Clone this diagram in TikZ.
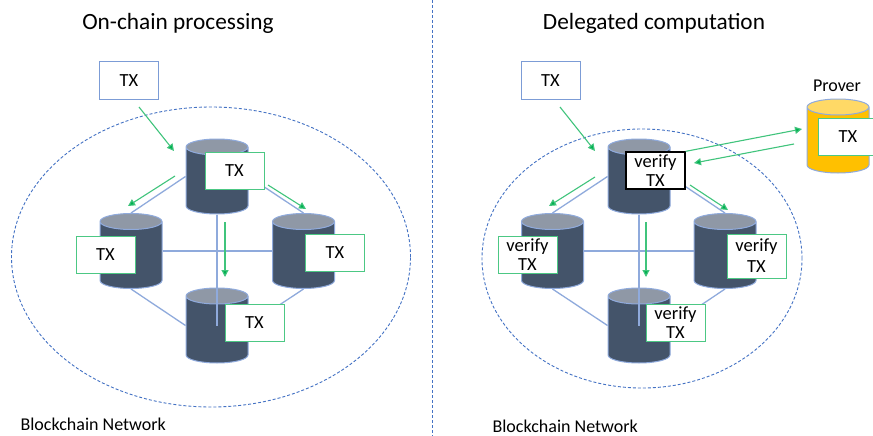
\documentclass[tikz,border=0pt]{standalone}
\usepackage{fontspec}
\setmainfont{Carlito}
\usetikzlibrary{arrows.meta, shapes.geometric}
\definecolor{slate}{HTML}{44546A}
\definecolor{slate top}{HTML}{8F98A6}
\definecolor{link blue}{HTML}{8FAADC}
\definecolor{ring blue}{HTML}{4472C4}
\definecolor{tx green}{HTML}{00B050}
\tikzset{
  peer/.style={shape=cylinder, shape border rotate=90, shape aspect=2, draw=link blue, line width=1pt,
    cylinder uses custom fill, cylinder body fill=slate, cylinder end fill=slate top,
    minimum width=62pt, minimum height=75pt, inner sep=4pt, anchor=shape center},
  prover/.style={peer, cylinder body fill={rgb,255:red,255;green,192;blue,0},
    cylinder end fill={rgb,255:red,255;green,217;blue,102}},
  txbox/.style={draw=tx green!70, fill=white, line width=1pt, font=\fontsize{18.5}{19}\selectfont,
    minimum width=59pt, minimum height=37pt, inner sep=0pt, align=center},
  inbox/.style={txbox, draw=ring blue!70},
  title/.style={font=\fontsize{23.3}{26}\selectfont},
  caption/.style={font=\fontsize{18}{20}\selectfont, anchor=west},
  link/.style={draw=link blue, line width=1.3pt},
  send/.style={-{Triangle[length=7pt, width=7pt, fill=tx green]}, draw=tx green!75, line width=1.1pt},
  ring/.style={draw=ring blue, densely dashed, line width=0.9pt},
}
\begin{document}
\begin{tikzpicture}[x=1pt, y=-1pt]
    \clip (0,0) rectangle (873,436);
    \fill[white] (0,0) rectangle (873,436);
    \coordinate (splittop) at (432,0);
    \coordinate (splitbot) at (432,436);
    \draw[ring] (splittop) -- (splitbot);

    % left half
    \node[title] (lefttitle) at (178,23) {On-chain processing};
    \node[caption] (leftnet) at (17,424) {Blockchain Network};
    \node[ring, shape=ellipse, minimum width=399pt, minimum height=300pt, inner sep=0pt] (leftring) at (211,257) {};
    \node[peer] (ltop) at (217,176.5) {};
    \node[peer] (lwest) at (131,251) {};
    \node[peer] (least) at (303.5,251) {};
    \node[peer] (lbot) at (217,325.5) {};
    \draw[link] (ltop.east |- ltop.shape center) -- (least.north);
    \draw[link] (ltop.west |- ltop.shape center) -- (lwest.north);
    \draw[link] (lwest.east |- lwest.shape center) -- (least.west |- least.shape center);
    \draw[link] (ltop.south) -- (lbot.shape center);
    \draw[link] (lwest.south) -- (lbot.west |- lbot.shape center);
    \draw[link] (least.south) -- (lbot.east |- lbot.shape center);
    \node[inbox] (lin) at (129,80.5) {TX};
    \node[txbox] (ltoptx) at (234.5,170.5) {TX};
    \node[txbox] (lwesttx) at (105.5,254.5) {TX};
    \node[txbox] (leasttx) at (335,252.5) {TX};
    \node[txbox] (lbottx) at (254.5,323) {TX};
    \coordinate (la) at (139,107);
    \coordinate (lb) at (174,151);
    \coordinate (lc) at (175,176);
    \coordinate (ld) at (128,206);
    \coordinate (le) at (268,185);
    \coordinate (lf) at (306,209);
    \coordinate (lg) at (225,222);
    \coordinate (lh) at (225,277);
    \draw[send] (la) -- (lb);
    \draw[send] (lc) -- (ld);
    \draw[send] (le) -- (lf);
    \draw[send] (lg) -- (lh);

    % right half
    \node[title] (righttitle) at (654,23) {Delegated computation};
    \node[caption] (rightnet) at (489,426) {Blockchain Network};
    \node[ring, shape=ellipse, minimum width=320pt, minimum height=259pt, inner sep=0pt] (rightring) at (642,258.5) {};
    \node[peer] (rtop) at (639,176.5) {};
    \node[peer] (rwest) at (552.5,251) {};
    \node[peer] (reast) at (725,251) {};
    \node[peer] (rbot) at (639,325.5) {};
    \draw[link] (rtop.east |- rtop.shape center) -- (reast.north);
    \draw[link] (rtop.west |- rtop.shape center) -- (rwest.north);
    \draw[link] (rwest.east |- rwest.shape center) -- (reast.west |- reast.shape center);
    \draw[link] (rtop.south) -- (rbot.shape center);
    \draw[link] (rwest.south) -- (rbot.west |- rbot.shape center);
    \draw[link] (reast.south) -- (rbot.east |- rbot.shape center);
    \node[inbox] (rin) at (550.5,80.5) {TX};
    \node[txbox, draw=black, line width=1.3pt] (rtoptx) at (655.5,170.5) {verify\\TX};
    \node[txbox] (rwesttx) at (527.5,254.5) {verify\\TX};
    \node[txbox, minimum height=44pt, font=\fontsize{18.5}{21}\selectfont] (reasttx) at (756.5,256) {\raisebox{-3pt}{verify}\\\raisebox{-3pt}{TX}};
    \node[txbox] (rbottx) at (675.5,323) {verify\\TX};
    \node[prover, minimum height=74pt] (prover) at (838,136) {};
    \node[txbox, minimum width=60pt] (provertx) at (848,136.5) {TX};
    \node[caption, anchor=center] (proverlabel) at (837,86) {Prover};
    \coordinate (ra) at (560,107);
    \coordinate (rb) at (595,151);
    \coordinate (rc) at (595,177);
    \coordinate (rd) at (549,206);
    \coordinate (re) at (690,185);
    \coordinate (rf) at (728,210);
    \coordinate (rg) at (646,222);
    \coordinate (rh) at (646,277);
    \coordinate (ri) at (794,144);
    \coordinate (rj) at (694,163);
    \coordinate (rk) at (802,129);
    \draw[send] (ra) -- (rb);
    \draw[send] (rc) -- (rd);
    \draw[send] (re) -- (rf);
    \draw[send] (rg) -- (rh);
    \draw[send] (rtoptx.north east) -- (rk);
    \draw[send] (ri) -- (rj);
\end{tikzpicture}
\end{document}
